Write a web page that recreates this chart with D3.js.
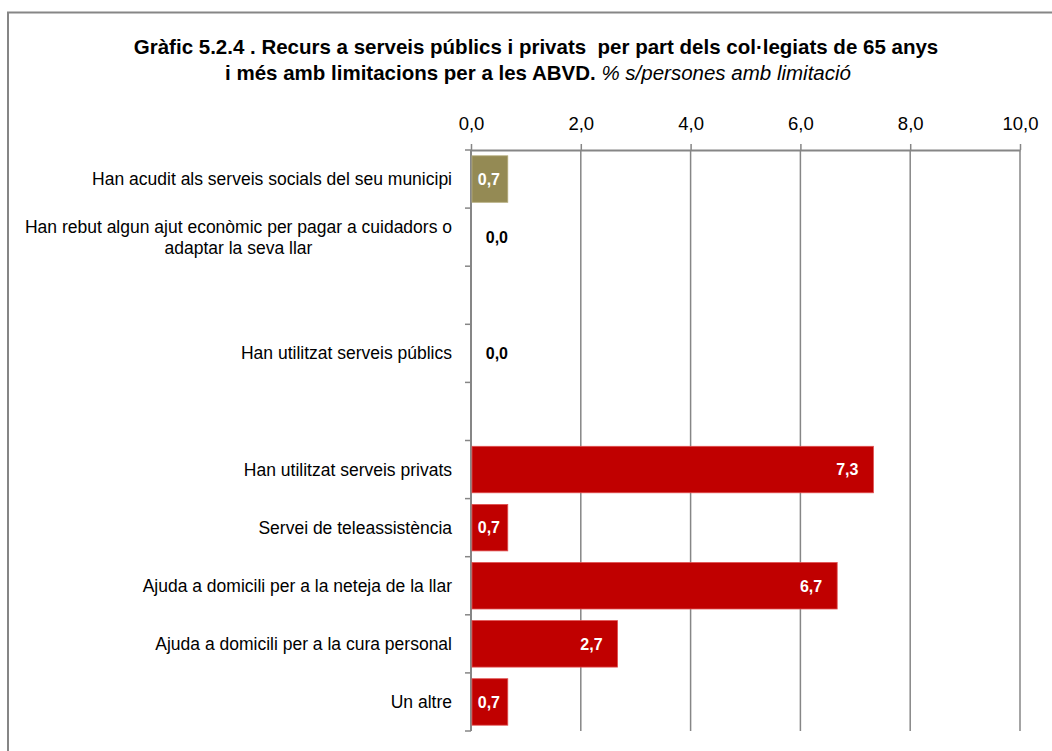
<!DOCTYPE html>
<html>
<head>
<meta charset="utf-8">
<script src="https://cdn.jsdelivr.net/npm/d3@7"></script>
<style>
  html, body { margin: 0; padding: 0; background: #ffffff; }
  svg { display: block; }
</style>
</head>
<body>
<svg id="chart" width="1052" height="751"></svg>
<script>
// ---- Data ----
const titleLine1 = "Gràfic 5.2.4 . Recurs a serveis públics i privats  per part dels col·legiats de 65 anys";
const titleLine2Bold = "i més amb limitacions per a les ABVD. ";
const titleLine2Italic = "% s/persones amb limitació";

// rows in display order; "" marks an empty slot in the chart
const categories = [
  "Han acudit als serveis socials del seu municipi",
  "Han rebut algun ajut econòmic per pagar a cuidadors o\nadaptar la seva llar",
  "",
  "Han utilitzat serveis públics",
  "",
  "Han utilitzat serveis privats",
  "Servei de teleassistència",
  "Ajuda a domicili per a la neteja de la llar",
  "Ajuda a domicili per a la cura personal",
  "Un altre"
];
const values = [0.67, 0, null, 0, null, 7.33, 0.67, 6.67, 2.67, 0.67];
const seriesGroup = ["social", "public", null, "public", null, "private", "private", "private", "private", "private"];
const tickValues = [0, 2, 4, 6, 8, 10];

// ---- Styles ----
const colors = { social: "#948A54", public: "#C00000", private: "#C00000" };
const font = "'Liberation Sans', Arial, sans-serif";
const axisColor = "#868686";

const svg = d3.select("#chart");

// frame
svg.append("rect")
  .attr("x", 8).attr("y", 12.5)
  .attr("width", 1100).attr("height", 800)
  .attr("fill", "none").attr("stroke", axisColor).attr("stroke-width", 2);

// title
const title = svg.append("g").attr("font-family", font).attr("fill", "#000");
title.append("text")
  .attr("x", 536).attr("y", 54)
  .attr("text-anchor", "middle")
  .attr("font-size", 20.5).attr("font-weight", "bold")
  .style("white-space", "pre")
  .text(titleLine1);
const t2 = title.append("text")
  .attr("x", 538).attr("y", 80)
  .attr("text-anchor", "middle")
  .attr("font-size", 20.5)
  .style("white-space", "pre");
t2.append("tspan").attr("font-weight", "bold").text(titleLine2Bold);
t2.append("tspan").attr("font-style", "italic").text(titleLine2Italic);

// scales
const x = d3.scaleLinear().domain([0, 10]).range([471, 1020]);
const y = d3.scaleBand()
  .domain(d3.range(categories.length))
  .range([150, 731])
  .paddingInner(0.2)
  .paddingOuter(0.1);

// gridlines
svg.append("g")
  .selectAll("line")
  .data(tickValues.filter(d => d > 0))
  .join("line")
  .attr("x1", d => x(d)).attr("x2", d => x(d))
  .attr("y1", 150).attr("y2", 731)
  .attr("stroke", axisColor).attr("stroke-width", 1.5);

// top axis
const fmt = d => d3.format(".1f")(d).replace(".", ",");
const xAxis = svg.append("g")
  .attr("transform", "translate(0,150)")
  .call(d3.axisTop(x).tickValues(tickValues).tickFormat(fmt).tickSize(6).tickSizeOuter(0).tickPadding(14));
xAxis.select(".domain").attr("stroke", axisColor).attr("stroke-width", 2);
xAxis.selectAll(".tick line").attr("stroke", axisColor).attr("stroke-width", 1.5);
xAxis.selectAll(".tick text")
  .attr("font-family", font).attr("font-size", 18.5).attr("fill", "#000");

// left axis line + ticks at band boundaries
const boundaries = d3.range(categories.length + 1).map(i => 150 + i * (581 / categories.length));
const leftAxis = svg.append("g");
leftAxis.append("line")
  .attr("x1", x(0)).attr("x2", x(0))
  .attr("y1", 150).attr("y2", 731)
  .attr("stroke", axisColor).attr("stroke-width", 2);
leftAxis.selectAll("line.tk")
  .data(boundaries)
  .join("line")
  .attr("class", "tk")
  .attr("x1", x(0) - 6).attr("x2", x(0))
  .attr("y1", d => d).attr("y2", d => d)
  .attr("stroke", axisColor).attr("stroke-width", 1.5);

// bars
const rows = categories.map((c, i) => ({ i, label: c, value: values[i], group: seriesGroup[i] }));
svg.append("g")
  .selectAll("rect")
  .data(rows.filter(d => d.value !== null && d.value > 0))
  .join("rect")
  .attr("x", x(0) + 1)
  .attr("y", d => y(d.i))
  .attr("width", d => x(d.value) - x(0) - 1)
  .attr("height", y.bandwidth())
  .attr("fill", d => colors[d.group])
  .attr("stroke", d => d.group === "social" ? "#b3aa7a" : "#e05050")
  .attr("stroke-width", 0.8);

// value labels
svg.append("g")
  .selectAll("text")
  .data(rows.filter(d => d.value !== null))
  .join("text")
  .attr("x", d => d.value === 0 ? x(0) + 37 : Math.max(x(d.value) - 15, x(d.value) < x(0) + 40 ? x(0) + 29 : 0))
  .attr("y", d => y(d.i) + y.bandwidth() / 2)
  .attr("dy", "0.36em")
  .attr("text-anchor", "end")
  .attr("font-family", font).attr("font-size", 16).attr("font-weight", "bold")
  .attr("fill", d => d.value === 0 ? "#000" : "#fff")
  .text(d => fmt(Math.round(d.value * 10) / 10));

// category labels
const labels = svg.append("g").attr("font-family", font).attr("font-size", 17.5).attr("fill", "#000");
rows.filter(d => d.label !== "").forEach(d => {
  const lines = d.label.split("\n");
  const cy = y(d.i) + y.bandwidth() / 2;
  const lh = 21;
  const g = labels.append("text").attr("text-anchor", "middle");
  const spans = lines.map((ln, k) => g.append("tspan")
    .attr("y", cy + (k - (lines.length - 1) / 2) * lh)
    .attr("dy", "0.35em")
    .text(ln));
  const w = d3.max(spans, s => s.node().getComputedTextLength());
  spans.forEach(s => s.attr("x", 452 - w / 2));
});
</script>
</body>
</html>
